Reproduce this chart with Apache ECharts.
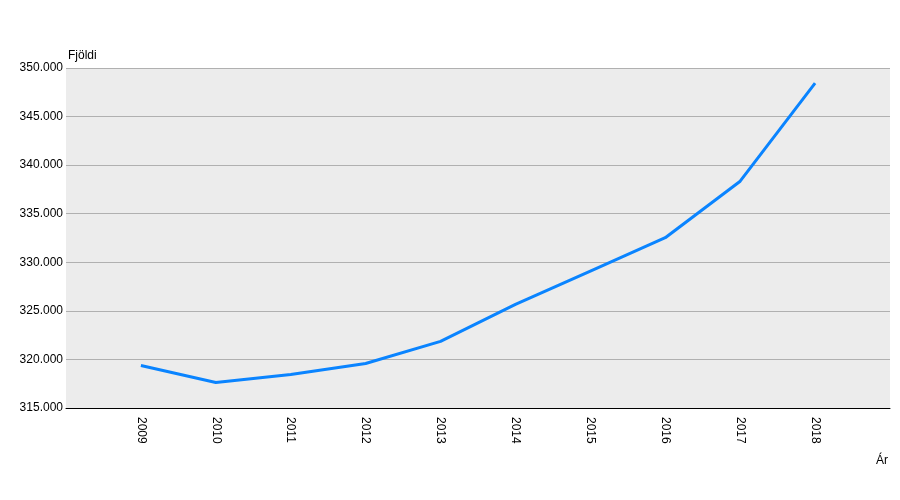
<!DOCTYPE html>
<html>
<head>
<meta charset="utf-8">
<script src="https://cdn.jsdelivr.net/npm/echarts@6/dist/echarts.min.js"></script>
<style>
  html, body { margin: 0; padding: 0; background: #fff; }
  #chart { width: 900px; height: 500px; }
</style>
</head>
<body>
<div id="chart"></div>
<script>
// ár og fjöldi
const years = [2009, 2010, 2011, 2012, 2013, 2014, 2015, 2016, 2017, 2018];
const population = [319368, 317630, 318452, 319575, 321857, 325671, 329100, 332529, 338349, 348450];

const fmt = (v) => String(v).replace(/\B(?=(\d{3})+(?!\d))/g, ".");

const chart = echarts.init(document.getElementById("chart"));
chart.setOption({
  animation: false,
  textStyle: { fontFamily: "Liberation Sans, Arial, sans-serif" },
  grid: {
    left: 66,
    right: 10,
    top: 68,
    bottom: 92,
    show: true,
    backgroundColor: "#ececec",
    borderWidth: 0,
  },
  xAxis: {
    type: "value",
    min: 2008,
    max: 2019,
    interval: 1,
    axisLine: { show: true, lineStyle: { color: "#000", width: 1 } },
    axisTick: { show: false },
    splitLine: { show: false },
    axisLabel: {
      rotate: -90,
      margin: 9,
      color: "#000",
      fontSize: 12,
      formatter: (v) => (v === 2008 || v === 2019 ? "" : String(v)),
    },
  },
  yAxis: {
    type: "value",
    min: 315000,
    max: 350000,
    interval: 5000,
    name: "Fjöldi",
    nameLocation: "end",
    nameGap: 4,
    nameTextStyle: { color: "#000", fontSize: 12, align: "left", padding: [0, 0, 0, 2] },
    axisLine: { show: false },
    axisTick: { show: false },
    splitLine: { show: true, lineStyle: { color: "#b0b0b0", width: 1 } },
    axisLabel: { color: "#000", fontSize: 12, margin: 3, formatter: fmt },
  },
  graphic: [
    {
      type: "text",
      right: 12,
      top: 455,
      style: { text: "Ár", fill: "#000", font: "12px Liberation Sans, Arial, sans-serif" },
    },
  ],
  series: [
    {
      type: "line",
      data: years.map((y, i) => [y, population[i]]),
      symbol: "none",
      lineStyle: { color: "#0a84ff", width: 3 },
      itemStyle: { color: "#0a84ff" },
    },
  ],
});
</script>
</body>
</html>
